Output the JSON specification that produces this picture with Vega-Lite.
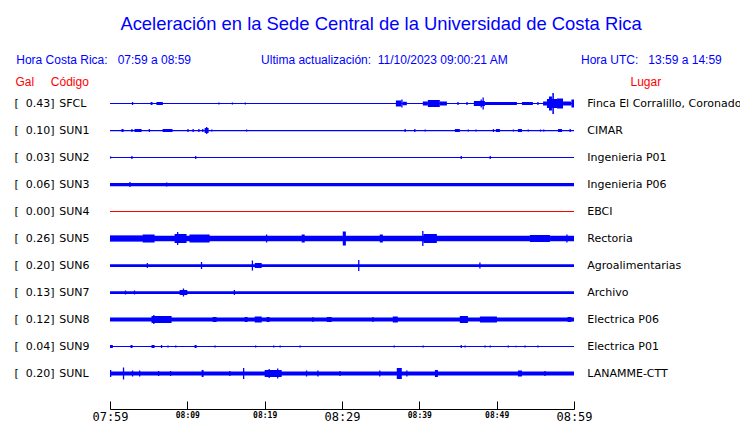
{
  "$schema": "https://vega.github.io/schema/vega-lite/v6.json",
  "width": 464,
  "height": 342,
  "autosize": "none",
  "padding": {"left": 110, "top": 67, "right": 166, "bottom": 14},
  "background": "#ffffff",
  "title": {
    "text": "\u200b\u2007\u2007\u2009Aceleración en la Sede Central de la Universidad de Costa Rica",
    "subtitle": "Hora Costa Rica:\u00a0\u00a0\u00a007:59 a 08:59\u00a0\u00a0\u00a0\u00a0\u00a0\u00a0\u00a0\u00a0\u00a0\u00a0\u00a0\u00a0\u00a0\u00a0\u00a0\u00a0\u00a0\u00a0\u00a0\u00a0\u00a0Ultima actualización:\u00a0\u00a011/10/2023 09:00:21 AM\u00a0\u00a0\u00a0\u00a0\u00a0\u00a0\u00a0\u00a0\u00a0\u00a0\u00a0\u00a0\u00a0\u00a0\u00a0\u00a0\u00a0\u00a0\u00a0\u00a0\u00a0\u00a0Hora UTC:\u00a0\u00a0\u00a013:59 a 14:59",
    "anchor": "middle",
    "frame": "group",
    "dx": 27,
    "offset": 1,
    "font": "Liberation Sans",
    "fontSize": 18.4,
    "fontWeight": "normal",
    "color": "#0000ff",
    "subtitleFont": "Liberation Sans",
    "subtitleFontSize": 12,
    "subtitleColor": "#0000ff",
    "subtitlePadding": 22
  },
  "layer": [
    {
      "data": {
        "format": {"parse": {"inicio": "date:'%H:%M:%S'", "fin": "date:'%H:%M:%S'"}},
        "values": [
          {"estacion": "SFCL", "inicio": "07:59:00", "fin": "08:59:00", "amp": 0.02},
          {"estacion": "SUN1", "inicio": "07:59:00", "fin": "08:59:00", "amp": 0.025},
          {"estacion": "SUN2", "inicio": "07:59:00", "fin": "08:59:00", "amp": 0.02},
          {"estacion": "SUN3", "inicio": "07:59:00", "fin": "08:59:00", "amp": 0.065},
          {"estacion": "SUN4", "inicio": "07:59:00", "fin": "08:59:00", "amp": 0.02},
          {"estacion": "SUN5", "inicio": "07:59:00", "fin": "08:59:00", "amp": 0.11},
          {"estacion": "SUN6", "inicio": "07:59:00", "fin": "08:59:00", "amp": 0.055},
          {"estacion": "SUN7", "inicio": "07:59:00", "fin": "08:59:00", "amp": 0.055},
          {"estacion": "SUN8", "inicio": "07:59:00", "fin": "08:59:00", "amp": 0.08},
          {"estacion": "SUN9", "inicio": "07:59:00", "fin": "08:59:00", "amp": 0.02},
          {"estacion": "SUNL", "inicio": "07:59:00", "fin": "08:59:00", "amp": 0.08},

          {"estacion": "SFCL", "inicio": "08:01:50", "fin": "08:02:00", "amp": 0.06},
          {"estacion": "SFCL", "inicio": "08:04:15", "fin": "08:04:30", "amp": 0.06},
          {"estacion": "SFCL", "inicio": "08:05:00", "fin": "08:05:50", "amp": 0.06},
          {"estacion": "SFCL", "inicio": "08:13:00", "fin": "08:13:10", "amp": 0.04},
          {"estacion": "SFCL", "inicio": "08:14:45", "fin": "08:14:55", "amp": 0.04},
          {"estacion": "SFCL", "inicio": "08:16:25", "fin": "08:16:35", "amp": 0.04},
          {"estacion": "SFCL", "inicio": "08:35:58", "fin": "08:36:40", "amp": 0.12},
          {"estacion": "SFCL", "inicio": "08:36:40", "fin": "08:36:50", "amp": 0.16},
          {"estacion": "SFCL", "inicio": "08:36:50", "fin": "08:37:23", "amp": 0.07},
          {"estacion": "SFCL", "inicio": "08:39:27", "fin": "08:40:06", "amp": 0.08},
          {"estacion": "SFCL", "inicio": "08:40:06", "fin": "08:41:39", "amp": 0.14},
          {"estacion": "SFCL", "inicio": "08:41:39", "fin": "08:42:34", "amp": 0.08},
          {"estacion": "SFCL", "inicio": "08:43:55", "fin": "08:44:05", "amp": 0.06},
          {"estacion": "SFCL", "inicio": "08:45:05", "fin": "08:45:15", "amp": 0.06},
          {"estacion": "SFCL", "inicio": "08:46:03", "fin": "08:47:29", "amp": 0.10},
          {"estacion": "SFCL", "inicio": "08:46:55", "fin": "08:47:05", "amp": 0.16},
          {"estacion": "SFCL", "inicio": "08:47:10", "fin": "08:47:20", "amp": 0.24},
          {"estacion": "SFCL", "inicio": "08:47:29", "fin": "08:51:37", "amp": 0.06},
          {"estacion": "SFCL", "inicio": "08:52:16", "fin": "08:53:41", "amp": 0.06},
          {"estacion": "SFCL", "inicio": "08:54:15", "fin": "08:54:25", "amp": 0.06},
          {"estacion": "SFCL", "inicio": "08:55:00", "fin": "08:55:30", "amp": 0.08},
          {"estacion": "SFCL", "inicio": "08:55:30", "fin": "08:56:48", "amp": 0.18},
          {"estacion": "SFCL", "inicio": "08:55:46", "fin": "08:56:09", "amp": 0.28},
          {"estacion": "SFCL", "inicio": "08:56:12", "fin": "08:56:24", "amp": 0.42},
          {"estacion": "SFCL", "inicio": "08:56:48", "fin": "08:57:35", "amp": 0.20},
          {"estacion": "SFCL", "inicio": "08:57:35", "fin": "08:58:40", "amp": 0.08},
          {"estacion": "SFCL", "inicio": "08:58:40", "fin": "08:59:00", "amp": 0.16},

          {"estacion": "SUN1", "inicio": "08:00:29", "fin": "08:00:45", "amp": 0.06},
          {"estacion": "SUN1", "inicio": "08:01:45", "fin": "08:01:55", "amp": 0.06},
          {"estacion": "SUN1", "inicio": "08:02:10", "fin": "08:03:05", "amp": 0.06},
          {"estacion": "SUN1", "inicio": "08:04:00", "fin": "08:04:10", "amp": 0.06},
          {"estacion": "SUN1", "inicio": "08:05:48", "fin": "08:07:05", "amp": 0.06},
          {"estacion": "SUN1", "inicio": "08:09:00", "fin": "08:09:10", "amp": 0.06},
          {"estacion": "SUN1", "inicio": "08:09:40", "fin": "08:09:50", "amp": 0.06},
          {"estacion": "SUN1", "inicio": "08:10:25", "fin": "08:10:35", "amp": 0.06},
          {"estacion": "SUN1", "inicio": "08:10:55", "fin": "08:11:05", "amp": 0.06},
          {"estacion": "SUN1", "inicio": "08:11:14", "fin": "08:11:45", "amp": 0.10},
          {"estacion": "SUN1", "inicio": "08:11:25", "fin": "08:11:35", "amp": 0.14},
          {"estacion": "SUN1", "inicio": "08:12:05", "fin": "08:12:15", "amp": 0.04},
          {"estacion": "SUN1", "inicio": "08:16:35", "fin": "08:16:45", "amp": 0.04},
          {"estacion": "SUN1", "inicio": "08:37:05", "fin": "08:37:15", "amp": 0.06},
          {"estacion": "SUN1", "inicio": "08:38:20", "fin": "08:38:30", "amp": 0.06},
          {"estacion": "SUN1", "inicio": "08:39:40", "fin": "08:39:50", "amp": 0.04},
          {"estacion": "SUN1", "inicio": "08:43:36", "fin": "08:44:14", "amp": 0.06},
          {"estacion": "SUN1", "inicio": "08:45:15", "fin": "08:45:25", "amp": 0.04},
          {"estacion": "SUN1", "inicio": "08:46:15", "fin": "08:46:25", "amp": 0.04},
          {"estacion": "SUN1", "inicio": "08:48:30", "fin": "08:48:40", "amp": 0.06},
          {"estacion": "SUN1", "inicio": "08:48:54", "fin": "08:49:25", "amp": 0.06},
          {"estacion": "SUN1", "inicio": "08:51:05", "fin": "08:51:15", "amp": 0.04},
          {"estacion": "SUN1", "inicio": "08:51:45", "fin": "08:52:16", "amp": 0.06},
          {"estacion": "SUN1", "inicio": "08:53:00", "fin": "08:53:10", "amp": 0.04},
          {"estacion": "SUN1", "inicio": "08:54:35", "fin": "08:54:45", "amp": 0.04},
          {"estacion": "SUN1", "inicio": "08:55:00", "fin": "08:55:10", "amp": 0.04},
          {"estacion": "SUN1", "inicio": "08:56:56", "fin": "08:57:27", "amp": 0.06},
          {"estacion": "SUN1", "inicio": "08:58:25", "fin": "08:58:35", "amp": 0.06},

          {"estacion": "SUN2", "inicio": "07:59:00", "fin": "07:59:10", "amp": 0.04},
          {"estacion": "SUN2", "inicio": "08:01:45", "fin": "08:01:55", "amp": 0.06},
          {"estacion": "SUN2", "inicio": "08:10:00", "fin": "08:10:10", "amp": 0.06},
          {"estacion": "SUN2", "inicio": "08:44:20", "fin": "08:44:30", "amp": 0.06},
          {"estacion": "SUN2", "inicio": "08:48:05", "fin": "08:48:15", "amp": 0.06},

          {"estacion": "SUN3", "inicio": "08:01:30", "fin": "08:01:40", "amp": 0.10},
          {"estacion": "SUN3", "inicio": "08:06:15", "fin": "08:06:25", "amp": 0.08},

          {"estacion": "SUN5", "inicio": "07:59:00", "fin": "08:03:13", "amp": 0.12},
          {"estacion": "SUN5", "inicio": "08:03:13", "fin": "08:04:46", "amp": 0.16},
          {"estacion": "SUN5", "inicio": "08:07:21", "fin": "08:08:54", "amp": 0.18},
          {"estacion": "SUN5", "inicio": "08:07:40", "fin": "08:07:50", "amp": 0.26},
          {"estacion": "SUN5", "inicio": "08:09:17", "fin": "08:11:53", "amp": 0.16},
          {"estacion": "SUN5", "inicio": "08:19:10", "fin": "08:19:20", "amp": 0.16},
          {"estacion": "SUN5", "inicio": "08:23:47", "fin": "08:24:11", "amp": 0.16},
          {"estacion": "SUN5", "inicio": "08:29:06", "fin": "08:29:30", "amp": 0.28},
          {"estacion": "SUN5", "inicio": "08:33:53", "fin": "08:34:17", "amp": 0.16},
          {"estacion": "SUN5", "inicio": "08:39:22", "fin": "08:39:32", "amp": 0.30},
          {"estacion": "SUN5", "inicio": "08:39:32", "fin": "08:41:16", "amp": 0.18},
          {"estacion": "SUN5", "inicio": "08:53:18", "fin": "08:55:53", "amp": 0.14},
          {"estacion": "SUN5", "inicio": "08:58:00", "fin": "08:58:10", "amp": 0.16},

          {"estacion": "SUN6", "inicio": "08:03:45", "fin": "08:03:55", "amp": 0.10},
          {"estacion": "SUN6", "inicio": "08:10:45", "fin": "08:10:55", "amp": 0.14},
          {"estacion": "SUN6", "inicio": "08:17:20", "fin": "08:17:30", "amp": 0.20},
          {"estacion": "SUN6", "inicio": "08:17:43", "fin": "08:18:37", "amp": 0.10},
          {"estacion": "SUN6", "inicio": "08:31:05", "fin": "08:31:15", "amp": 0.22},
          {"estacion": "SUN6", "inicio": "08:46:45", "fin": "08:46:55", "amp": 0.12},

          {"estacion": "SUN7", "inicio": "08:00:55", "fin": "08:01:05", "amp": 0.08},
          {"estacion": "SUN7", "inicio": "08:02:05", "fin": "08:02:15", "amp": 0.08},
          {"estacion": "SUN7", "inicio": "08:08:00", "fin": "08:09:00", "amp": 0.10},
          {"estacion": "SUN7", "inicio": "08:08:25", "fin": "08:08:35", "amp": 0.16},
          {"estacion": "SUN7", "inicio": "08:15:00", "fin": "08:15:10", "amp": 0.10},

          {"estacion": "SUN8", "inicio": "08:04:22", "fin": "08:06:58", "amp": 0.14},
          {"estacion": "SUN8", "inicio": "08:04:35", "fin": "08:04:45", "amp": 0.18},
          {"estacion": "SUN8", "inicio": "08:12:16", "fin": "08:12:47", "amp": 0.10},
          {"estacion": "SUN8", "inicio": "08:16:25", "fin": "08:16:48", "amp": 0.10},
          {"estacion": "SUN8", "inicio": "08:17:43", "fin": "08:18:37", "amp": 0.12},
          {"estacion": "SUN8", "inicio": "08:19:15", "fin": "08:19:39", "amp": 0.10},
          {"estacion": "SUN8", "inicio": "08:25:10", "fin": "08:25:20", "amp": 0.10},
          {"estacion": "SUN8", "inicio": "08:27:02", "fin": "08:27:40", "amp": 0.10},
          {"estacion": "SUN8", "inicio": "08:32:55", "fin": "08:33:05", "amp": 0.10},
          {"estacion": "SUN8", "inicio": "08:35:34", "fin": "08:36:13", "amp": 0.12},
          {"estacion": "SUN8", "inicio": "08:44:14", "fin": "08:45:17", "amp": 0.14},
          {"estacion": "SUN8", "inicio": "08:46:50", "fin": "08:49:02", "amp": 0.12},
          {"estacion": "SUN8", "inicio": "08:58:10", "fin": "08:58:40", "amp": 0.10},

          {"estacion": "SUN9", "inicio": "07:59:00", "fin": "07:59:22", "amp": 0.06},
          {"estacion": "SUN9", "inicio": "08:01:39", "fin": "08:01:55", "amp": 0.06},
          {"estacion": "SUN9", "inicio": "08:04:22", "fin": "08:04:46", "amp": 0.06},
          {"estacion": "SUN9", "inicio": "08:05:35", "fin": "08:05:45", "amp": 0.06},
          {"estacion": "SUN9", "inicio": "08:06:25", "fin": "08:06:35", "amp": 0.04},
          {"estacion": "SUN9", "inicio": "08:07:25", "fin": "08:07:35", "amp": 0.04},
          {"estacion": "SUN9", "inicio": "08:09:56", "fin": "08:10:12", "amp": 0.06},
          {"estacion": "SUN9", "inicio": "08:12:30", "fin": "08:12:40", "amp": 0.04},
          {"estacion": "SUN9", "inicio": "08:17:45", "fin": "08:17:55", "amp": 0.04},
          {"estacion": "SUN9", "inicio": "08:20:05", "fin": "08:20:15", "amp": 0.04},
          {"estacion": "SUN9", "inicio": "08:20:55", "fin": "08:21:05", "amp": 0.04},
          {"estacion": "SUN9", "inicio": "08:23:30", "fin": "08:23:40", "amp": 0.04},
          {"estacion": "SUN9", "inicio": "08:35:40", "fin": "08:35:50", "amp": 0.04},
          {"estacion": "SUN9", "inicio": "08:39:25", "fin": "08:39:35", "amp": 0.04},
          {"estacion": "SUN9", "inicio": "08:44:20", "fin": "08:44:30", "amp": 0.06},
          {"estacion": "SUN9", "inicio": "08:44:50", "fin": "08:45:00", "amp": 0.04},
          {"estacion": "SUN9", "inicio": "08:47:25", "fin": "08:47:35", "amp": 0.04},
          {"estacion": "SUN9", "inicio": "08:48:05", "fin": "08:48:15", "amp": 0.04},
          {"estacion": "SUN9", "inicio": "08:50:25", "fin": "08:50:35", "amp": 0.04},
          {"estacion": "SUN9", "inicio": "08:51:25", "fin": "08:51:35", "amp": 0.03},
          {"estacion": "SUN9", "inicio": "08:52:35", "fin": "08:52:45", "amp": 0.04},
          {"estacion": "SUN9", "inicio": "08:54:15", "fin": "08:54:25", "amp": 0.04},

          {"estacion": "SUNL", "inicio": "07:59:00", "fin": "07:59:10", "amp": 0.14},
          {"estacion": "SUNL", "inicio": "08:00:40", "fin": "08:00:50", "amp": 0.24},
          {"estacion": "SUNL", "inicio": "08:01:50", "fin": "08:02:00", "amp": 0.12},
          {"estacion": "SUNL", "inicio": "08:02:45", "fin": "08:02:55", "amp": 0.12},
          {"estacion": "SUNL", "inicio": "08:05:12", "fin": "08:05:22", "amp": 0.10},
          {"estacion": "SUNL", "inicio": "08:06:45", "fin": "08:06:55", "amp": 0.10},
          {"estacion": "SUNL", "inicio": "08:10:51", "fin": "08:11:06", "amp": 0.14},
          {"estacion": "SUNL", "inicio": "08:14:25", "fin": "08:14:35", "amp": 0.10},
          {"estacion": "SUNL", "inicio": "08:16:12", "fin": "08:16:22", "amp": 0.22},
          {"estacion": "SUNL", "inicio": "08:19:00", "fin": "08:21:12", "amp": 0.14},
          {"estacion": "SUNL", "inicio": "08:19:30", "fin": "08:19:40", "amp": 0.18},
          {"estacion": "SUNL", "inicio": "08:20:36", "fin": "08:20:46", "amp": 0.20},
          {"estacion": "SUNL", "inicio": "08:24:20", "fin": "08:24:30", "amp": 0.12},
          {"estacion": "SUNL", "inicio": "08:25:48", "fin": "08:25:58", "amp": 0.12},
          {"estacion": "SUNL", "inicio": "08:28:40", "fin": "08:28:50", "amp": 0.10},
          {"estacion": "SUNL", "inicio": "08:33:48", "fin": "08:33:58", "amp": 0.12},
          {"estacion": "SUNL", "inicio": "08:36:05", "fin": "08:36:44", "amp": 0.22},
          {"estacion": "SUNL", "inicio": "08:37:18", "fin": "08:37:28", "amp": 0.12},
          {"estacion": "SUNL", "inicio": "08:41:01", "fin": "08:41:24", "amp": 0.14},
          {"estacion": "SUNL", "inicio": "08:51:45", "fin": "08:52:16", "amp": 0.12},
          {"estacion": "SUNL", "inicio": "08:55:10", "fin": "08:55:20", "amp": 0.10}
        ]
      },
      "mark": {"type": "rule"},
      "encoding": {
        "x": {
          "field": "inicio",
          "type": "temporal",
          "scale": {"nice": false},
          "axis": {
            "values": [
              {"year": 1900, "month": 1, "date": 1, "hours": 7, "minutes": 59},
              {"year": 1900, "month": 1, "date": 1, "hours": 8, "minutes": 4},
              {"year": 1900, "month": 1, "date": 1, "hours": 8, "minutes": 9},
              {"year": 1900, "month": 1, "date": 1, "hours": 8, "minutes": 14},
              {"year": 1900, "month": 1, "date": 1, "hours": 8, "minutes": 19},
              {"year": 1900, "month": 1, "date": 1, "hours": 8, "minutes": 24},
              {"year": 1900, "month": 1, "date": 1, "hours": 8, "minutes": 29},
              {"year": 1900, "month": 1, "date": 1, "hours": 8, "minutes": 34},
              {"year": 1900, "month": 1, "date": 1, "hours": 8, "minutes": 39},
              {"year": 1900, "month": 1, "date": 1, "hours": 8, "minutes": 44},
              {"year": 1900, "month": 1, "date": 1, "hours": 8, "minutes": 49},
              {"year": 1900, "month": 1, "date": 1, "hours": 8, "minutes": 54},
              {"year": 1900, "month": 1, "date": 1, "hours": 8, "minutes": 59}
            ],
            "labelExpr": "minutes(datum.value) % 10 == 9 ? timeFormat(datum.value, '%H:%M') : ''",
            "labelFont": "DejaVu Sans Mono",
            "labelFontSize": {"condition": {"test": "minutes(datum.value) % 30 == 29", "value": 12}, "value": 8},
            "labelFontWeight": {"condition": {"test": "minutes(datum.value) % 30 == 29", "value": "normal"}, "value": "bold"},
            "labelColor": "#000000",
            "labelPadding": 10,
            "labelOverlap": false,
            "labelFlush": false,
            "labelBound": false,
            "tickSize": -8,
            "tickColor": "#000000",
            "tickWidth": 1,
            "domainColor": "#000000",
            "domainWidth": 1,
            "grid": false,
            "title": "Lugar",
            "titleColor": "#ff0000",
            "titleFont": "Liberation Sans",
            "titleFontSize": 12,
            "titleFontWeight": "normal",
            "titleAngle": 0,
            "titleAlign": "left",
            "titleBaseline": "alphabetic",
            "titleX": 520,
            "titleY": -324
          }
        },
        "x2": {"field": "fin"},
        "y": {
          "field": "estacion",
          "type": "nominal",
          "scale": {"type": "point", "range": [36.5, 306.5], "padding": 0},
          "axis": {
            "title": "Gal\u00a0\u00a0\u00a0\u00a0\u00a0Código",
            "titleColor": "#ff0000",
            "titleFont": "Liberation Sans",
            "titleFontSize": 12,
            "titleFontWeight": "normal",
            "titleAngle": 0,
            "titleAlign": "left",
            "titleBaseline": "alphabetic",
            "titleX": -95,
            "titleY": 18,
            "domain": false,
            "ticks": false,
            "tickSize": 0,
            "grid": false,
            "labelAlign": "left",
            "labelPadding": 51.3,
            "labelFont": "DejaVu Sans",
            "labelFontSize": 11,
            "labelColor": "#000000"
          }
        },
        "strokeWidth": {
          "field": "amp",
          "type": "quantitative",
          "scale": {"domain": [0, 0.5], "range": [0, 25]},
          "legend": null
        },
        "color": {
          "condition": {"test": "datum.estacion == 'SUN4'", "value": "#ff0000"},
          "value": "#0000ff"
        }
      }
    },
    {
      "data": {
        "values": [
          {"estacion": "SFCL", "gal": 0.43, "lugar": "Finca El Corralillo, Coronado"},
          {"estacion": "SUN1", "gal": 0.10, "lugar": "CIMAR"},
          {"estacion": "SUN2", "gal": 0.03, "lugar": "Ingenieria P01"},
          {"estacion": "SUN3", "gal": 0.06, "lugar": "Ingenieria P06"},
          {"estacion": "SUN4", "gal": 0.00, "lugar": "EBCI"},
          {"estacion": "SUN5", "gal": 0.26, "lugar": "Rectoria"},
          {"estacion": "SUN6", "gal": 0.20, "lugar": "Agroalimentarias"},
          {"estacion": "SUN7", "gal": 0.13, "lugar": "Archivo"},
          {"estacion": "SUN8", "gal": 0.12, "lugar": "Electrica P06"},
          {"estacion": "SUN9", "gal": 0.04, "lugar": "Electrica P01"},
          {"estacion": "SUNL", "gal": 0.20, "lugar": "LANAMME-CTT"}
        ]
      },
      "layer": [
        {
          "mark": {"type": "text", "align": "left", "baseline": "middle", "dx": -95.5, "font": "DejaVu Sans", "fontSize": 11, "color": "#000000"},
          "encoding": {
            "x": {"datum": {"year": 1900, "month": 1, "date": 1, "hours": 7, "minutes": 59}, "type": "temporal"},
            "y": {"field": "estacion", "type": "nominal"},
            "text": {"field": "gal", "type": "quantitative", "format": "$.2f"}
          }
        },
        {
          "mark": {"type": "text", "align": "left", "baseline": "middle", "dx": 13.3, "font": "DejaVu Sans", "fontSize": 11, "color": "#000000"},
          "encoding": {
            "x": {"datum": {"year": 1900, "month": 1, "date": 1, "hours": 8, "minutes": 59}, "type": "temporal"},
            "y": {"field": "estacion", "type": "nominal"},
            "text": {"field": "lugar", "type": "nominal"}
          }
        }
      ]
    }
  ],
  "config": {
    "view": {"stroke": null},
    "locale": {
      "number": {"decimal": ".", "thousands": ",", "grouping": [3], "currency": ["[\u00a0\u00a0", "]"]}
    }
  }
}
